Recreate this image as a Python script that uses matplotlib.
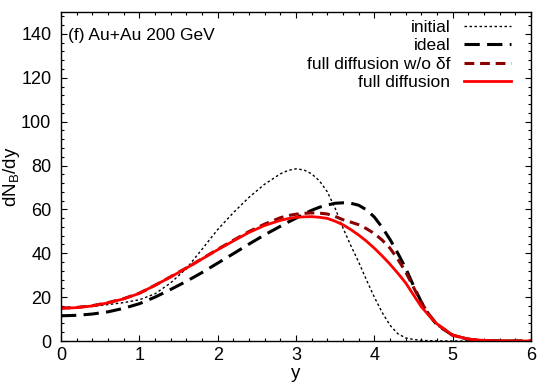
import matplotlib
matplotlib.use("Agg")
import matplotlib.pyplot as plt
from matplotlib.ticker import MultipleLocator

plt.rcParams['font.family'] = ['Liberation Sans', 'DejaVu Sans']
plt.rcParams['mathtext.fontset'] = 'custom'
plt.rcParams['mathtext.rm'] = 'Liberation Sans'
plt.rcParams['mathtext.it'] = 'Liberation Sans'

# rapidity grid
y = [0.0, 0.2, 0.4, 0.6, 0.8, 1.0, 1.2, 1.4, 1.6, 1.8, 2.0, 2.2, 2.4, 2.6,
     2.8, 2.9, 3.0, 3.1, 3.2, 3.3, 3.4, 3.5, 3.6, 3.7, 3.8, 3.9, 4.0, 4.1, 4.2,
     4.3, 4.4, 4.5, 4.6, 4.7, 4.8,
     5.0, 5.2, 5.4, 5.6, 5.8, 6.0]

initial = [15.0, 15.2, 15.8, 16.6, 17.5, 18.8, 21.5, 26.5, 33.0, 41.8, 50.8, 58.5, 65.5, 71.5,
           76.2, 77.8, 78.5, 78.0, 76.2, 73.0, 68.0, 60.5, 51.5, 43.5, 36.0, 27.8, 20.0, 13.0, 7.2,
           3.3, 1.4, 0.7, 0.3, 0.15, 0.05,
           0.0, 0.0, 0.0, 0.0, 0.0, 0.0]

ideal = [11.5, 11.7, 12.3, 13.3, 14.9, 17.0, 20.0, 23.5, 27.2, 31.2, 35.5, 39.8, 44.2, 48.4,
         52.3, 54.2, 56.0, 57.9, 59.6, 61.0, 62.0, 62.8, 63.0, 62.8, 61.9, 59.8, 56.5, 51.8, 46.3,
         40.0, 33.2, 25.2, 17.8, 11.8, 7.3,
         2.6, 0.8, 0.2, 0.05, 0.0, 0.0]

diff_no_df = [15.0, 15.3, 16.1, 17.5, 19.3, 21.8, 25.4, 29.3, 33.3, 37.5, 41.8, 45.9, 49.9, 53.3,
              56.2, 57.2, 57.8, 58.2, 58.4, 58.3, 57.9, 56.8, 55.3, 54.2, 53.0, 51.2, 49.0, 46.0, 42.3,
              37.3, 31.5, 24.5, 17.5, 12.0, 7.6,
              2.7, 0.8, 0.2, 0.05, 0.0, 0.0]

full_diff = [14.9, 15.2, 16.0, 17.4, 19.2, 21.7, 25.4, 29.2, 33.2, 37.4, 41.6, 45.6, 49.5, 52.7,
             55.0, 55.8, 56.4, 56.6, 56.7, 56.4, 55.9, 54.6, 53.0, 50.8, 48.3, 45.5, 42.3, 38.8, 35.0,
             30.9, 26.5, 21.0, 15.6, 11.5, 7.8,
             2.6, 0.9, 0.25, 0.05, 0.0, 0.0]

labels = ["initial", "ideal", "full diffusion w/o \u03b4f", "full diffusion"]

fig = plt.figure(figsize=(5.48, 3.84), dpi=100)
ax = fig.add_axes([61/548, 43/384, 470/548, 329/384])

l1, = ax.plot(y, initial, color='black', lw=1.0, label=labels[0])
l1.set_dashes((1.8, 1.8))
l2, = ax.plot(y, ideal, color='black', lw=2.2, label=labels[1])
l2.set_dashes((5.0, 2.4))
l3, = ax.plot(y, diff_no_df, color='#8b0000', lw=2.2, label=labels[2])
l3.set_dashes((3.2, 1.9))
l4, = ax.plot(y, full_diff, color='#ff0000', lw=2.0, label=labels[3])

ax.set_xlim(0, 6)
ax.set_ylim(0, 150)
ax.xaxis.set_major_locator(MultipleLocator(1))
ax.xaxis.set_minor_locator(MultipleLocator(0.2))
ax.yaxis.set_major_locator(MultipleLocator(20))
ax.yaxis.set_minor_locator(MultipleLocator(4))
ax.tick_params(which='both', direction='in', top=True, right=True, labelsize=13, width=0.8)
ax.tick_params(which='major', length=4)
ax.tick_params(which='minor', length=2)
ax.tick_params(axis='x', pad=4)
ax.tick_params(axis='y', pad=7)
for s in ax.spines.values():
    s.set_linewidth(1.0)

ax.set_xlabel("y", fontsize=13.5, labelpad=1)
ax.set_ylabel("dN$_\\mathregular{B}$/dy", fontsize=13.5)
ax.yaxis.set_label_coords(-0.083, 0.5)

ax.text(0.015, 0.93, "(f) Au+Au 200 GeV", transform=ax.transAxes, fontsize=12.5,
        ha='left', va='center')

leg = ax.legend(loc='upper right', bbox_to_anchor=(0.958, 0.976), frameon=False,
                markerfirst=False, fontsize=12.5, handlelength=2.7, handletextpad=0.8,
                labelspacing=0.18, borderpad=0.0, borderaxespad=0.0)
for t in leg.get_texts():
    t.set_ha('right')

fig.savefig("out.png", dpi=100)
